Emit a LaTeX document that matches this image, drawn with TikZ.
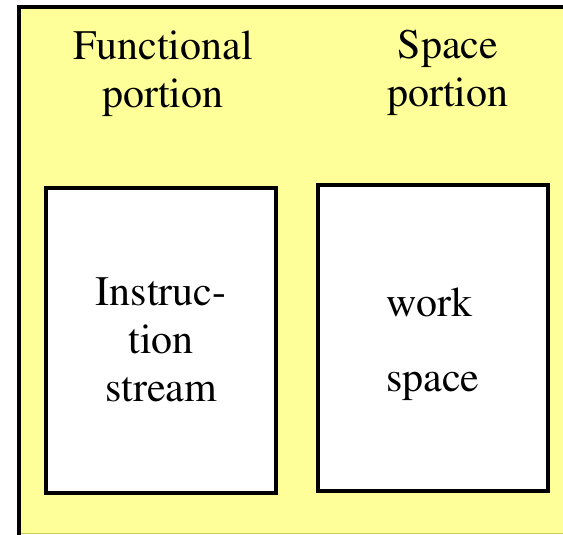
\documentclass[tikz,border=0pt]{standalone}
\usepackage[T1]{fontenc}
\usepackage{mathptmx}
\usepackage{xcolor}
\usepackage{tikz}
\usetikzlibrary{positioning, backgrounds}
\definecolor{paleyellow}{HTML}{FFFF99}
\tikzset{
  headlabel/.style={align=center, inner sep=0pt, font=\rmfamily\fontsize{42}{48}\selectfont},
  portionbox/.style={
    draw=black, line width=3.5pt, fill=white,
    minimum width=230pt, minimum height=305pt, inner sep=0pt
  },
  boxtext/.style={inner sep=0pt, font=\rmfamily\fontsize{42}{48}\selectfont},
}

\begin{document}
\begin{tikzpicture}[x=1pt, y=-1pt]
  \useasboundingbox (0,0) rectangle (563,535);

  % Frame (open to the right)
  \fill[paleyellow] (19,7) rectangle (563,533);
  \draw[yellow!60!gray, line width=1pt] (19,533) -- (563,533);
  \draw[black, line width=4pt] (19,535) -- (19,7) -- (563,7);

  % Headings
  \node[headlabel] (functional) at (163,74) {Functional\\portion};
  \node[headlabel] (spacehead) at (448,73) {Space\\portion};

  % Boxes
  \node[portionbox] (instr) at (161,340.5) {};
  \node[portionbox, minimum height=306pt] (work) at (433,338) {};

  % Box texts
  \node[boxtext, align=center] (instrtext) at (instr.center) {Instruc-\\tion\\stream};
  \node[boxtext, align=left, yshift=-6.5pt] (worktext) at (work.center) {work\\[27pt]space};
\end{tikzpicture}
\end{document}
